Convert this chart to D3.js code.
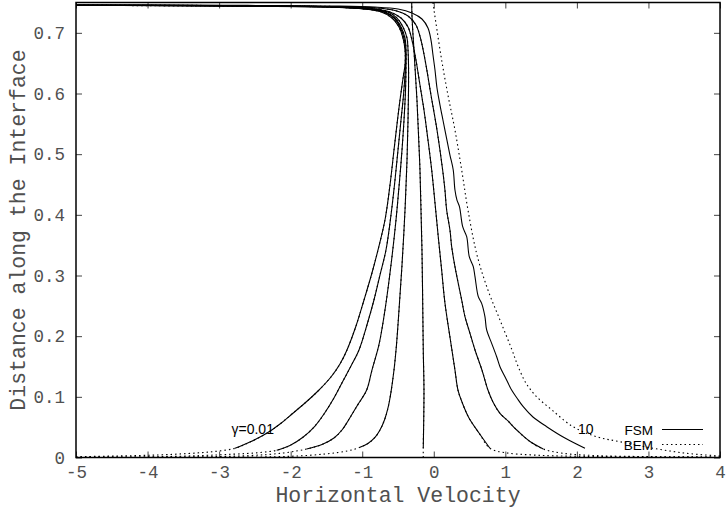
<!DOCTYPE html>
<html>
<head>
<meta charset="utf-8">
<script src="https://cdn.jsdelivr.net/npm/d3@7"></script>
<style>
  body { margin: 0; background: #fff; }
  text.tick-label { font-family: "Liberation Mono", "Courier New", monospace; font-size: 17.5px; fill: #505050; }
  text.title { font-family: "Liberation Mono", "Courier New", monospace; font-size: 21.5px; fill: #505050; }
  text.sans { font-family: "Liberation Sans", Arial, sans-serif; font-size: 14px; fill: #000; }
  text.key { font-family: "Liberation Sans", Arial, sans-serif; font-size: 13.5px; fill: #000; }
</style>
</head>
<body>
<div id="chart"></div>
<script>
const xTicks = [-5, -4, -3, -2, -1, 0, 1, 2, 3, 4];
const yTicks = [0, 0.1, 0.2, 0.3, 0.4, 0.5, 0.6, 0.7];

// FSM profiles, [velocity, distance], bottom to top
const fsm1 = [[-2.778,0.0152],[-2.569,0.0255],[-2.335,0.0399],[-2.149,0.0552],[-1.982,0.0717],[-1.800,0.0898],[-1.618,0.1096],[-1.437,0.1327],[-1.311,0.1541],[-1.213,0.1772],[-1.087,0.2167],[-0.975,0.2596],[-0.864,0.3041],[-0.780,0.3420],[-0.682,0.3915],[-0.612,0.4491],[-0.556,0.5068],[-0.507,0.5563],[-0.472,0.5892],[-0.423,0.6305],[-0.402,0.6469],[-0.402,0.6717],[-0.430,0.6914],[-0.486,0.7096],[-0.584,0.7244],[-0.752,0.7351],[-1.031,0.7401],[-1.590,0.7434],[-2.569,0.7447],[-3.966,0.7455],[-5,0.7458]];
const fsm2 = [[-2.195,0.0119],[-2.010,0.0198],[-1.824,0.0338],[-1.660,0.0519],[-1.534,0.0717],[-1.395,0.0981],[-1.269,0.1261],[-1.157,0.1508],[-1.045,0.1772],[-0.934,0.2184],[-0.836,0.2596],[-0.752,0.3008],[-0.668,0.3420],[-0.598,0.3997],[-0.542,0.4574],[-0.500,0.5068],[-0.458,0.5563],[-0.423,0.5975],[-0.395,0.6469],[-0.395,0.6717],[-0.416,0.6914],[-0.472,0.7096],[-0.556,0.7244],[-0.710,0.7343],[-0.962,0.7397],[-1.520,0.7430],[-2.569,0.7445],[-3.966,0.7453],[-5,0.7457]];
const fsm3 = [[-1.777,0.0140],[-1.562,0.0214],[-1.395,0.0321],[-1.283,0.0453],[-1.199,0.0602],[-1.073,0.0849],[-0.938,0.1112],[-0.864,0.1442],[-0.766,0.1859],[-0.682,0.2431],[-0.598,0.3173],[-0.528,0.3915],[-0.472,0.4656],[-0.444,0.5068],[-0.416,0.5563],[-0.395,0.6057],[-0.388,0.6469],[-0.388,0.6717],[-0.402,0.6914],[-0.458,0.7096],[-0.542,0.7244],[-0.682,0.7343],[-0.920,0.7392],[-1.450,0.7425],[-2.569,0.7442],[-3.966,0.7452],[-5,0.7455]];
const fsm4 = [[-1.031,0.0168],[-0.920,0.0231],[-0.822,0.0330],[-0.752,0.0453],[-0.689,0.0618],[-0.640,0.0816],[-0.598,0.1079],[-0.556,0.1442],[-0.521,0.1859],[-0.486,0.2431],[-0.444,0.3173],[-0.402,0.4079],[-0.374,0.4903],[-0.360,0.5563],[-0.353,0.6057],[-0.353,0.6469],[-0.360,0.6717],[-0.374,0.6914],[-0.430,0.7096],[-0.514,0.7244],[-0.640,0.7343],[-0.864,0.7392],[-1.381,0.7425],[-2.569,0.7439],[-3.966,0.7448],[-5,0.7452]];
const fsm5 = [[-0.147,0.0152],[-0.137,0.1112],[-0.147,0.1772],[-0.165,0.3420],[-0.193,0.4739],[-0.235,0.5892],[-0.277,0.6717],[-0.305,0.7294],[-0.309,0.7623]];
const fsm6 = [[0.785,0.0152],[0.632,0.0404],[0.492,0.0651],[0.394,0.0915],[0.338,0.1112],[0.296,0.1442],[0.226,0.1986],[0.156,0.2546],[0.110,0.3090],[0.063,0.3634],[0.017,0.4195],[-0.029,0.4739],[-0.081,0.5233],[-0.137,0.5728],[-0.193,0.6140],[-0.249,0.6552],[-0.305,0.6881],[-0.360,0.7096],[-0.458,0.7244],[-0.612,0.7343],[-0.864,0.7401],[-1.381,0.7429],[-2.569,0.7442],[-3.966,0.7450],[-5,0.7453]];
const fsm7 = [[1.530,0.0140],[1.344,0.0263],[1.159,0.0453],[1.037,0.0602],[0.925,0.0728],[0.827,0.0915],[0.757,0.1112],[0.673,0.1442],[0.576,0.1772],[0.506,0.2047],[0.436,0.2321],[0.390,0.2596],[0.342,0.2871],[0.296,0.3145],[0.250,0.3475],[0.226,0.3750],[0.180,0.4079],[0.156,0.4409],[0.124,0.4739],[0.045,0.5398],[-0.039,0.5975],[-0.109,0.6469],[-0.179,0.6881],[-0.249,0.7129],[-0.360,0.7277],[-0.542,0.7368],[-0.822,0.7412],[-1.381,0.7434],[-2.569,0.7445],[-3.966,0.7452],[-5,0.7455]];
const fsm8 = [[2.113,0.0152],[1.833,0.0321],[1.578,0.0508],[1.386,0.0667],[1.250,0.0837],[1.162,0.0981],[1.088,0.1112],[0.995,0.1332],[0.925,0.1497],[0.879,0.1661],[0.809,0.1882],[0.739,0.2102],[0.715,0.2321],[0.669,0.2541],[0.622,0.2651],[0.576,0.2980],[0.552,0.3145],[0.496,0.3310],[0.460,0.3639],[0.404,0.3804],[0.359,0.4134],[0.324,0.4244],[0.296,0.4409],[0.272,0.4739],[0.226,0.4986],[0.184,0.5233],[0.128,0.5563],[0.087,0.5810],[0.045,0.6090],[0.017,0.6387],[-0.011,0.6634],[-0.039,0.6881],[-0.081,0.7079],[-0.165,0.7228],[-0.305,0.7327],[-0.500,0.7392],[-0.822,0.7425],[-1.450,0.7442],[-3.267,0.7455],[-5,0.7458]];

// BEM: tails below the FSM ends (the rest of each BEM curve sits on its FSM curve)
const bemTail1 = [[-5,0.0013],[-4.43,0.0025],[-3.87,0.0041],[-3.45,0.0065],[-3.1,0.0095]];
const bemTail2 = [[-5,0.0005],[-4,0.001],[-3.3,0.003],[-2.8,0.0055],[-2.45,0.008]];
const bemTail3 = [[-5,0.0003],[-3.5,0.0008],[-2.6,0.003],[-2.1,0.0075]];
const bemTail4 = [[-5,0.0002],[-3,0.0005],[-2,0.002],[-1.5,0.006],[-1.2,0.011]];
const bemTail5 = [[-0.147,0]];
const bemTail6 = [[4,0.0005],[2,0.002],[1.4,0.004],[1.0,0.008]];
const bemTail7 = [[4,0.0008],[3,0.0015],[2.3,0.003],[1.8,0.007]];
const bem8 = [[4.0,0.0025],[3.534,0.0069],[3.067,0.0152],[2.602,0.0260],[2.276,0.0343],[1.945,0.0508],[1.652,0.0783],[1.428,0.1013],[1.288,0.1228],[1.176,0.1508],[1.093,0.1772],[0.925,0.2267],[0.757,0.2761],[0.604,0.3338],[0.478,0.4079],[0.390,0.4739],[0.296,0.5398],[0.198,0.5975],[0.110,0.6552],[0.045,0.7046],[0.003,0.7376],[-0.025,0.7623]];

const fsmCurves = [fsm1, fsm2, fsm3, fsm4, fsm5, fsm6, fsm7, fsm8];
const bemCurves = [
  bemTail1.concat(fsm1), bemTail2.concat(fsm2), bemTail3.concat(fsm3), bemTail4.concat(fsm4),
  bemTail5.concat(fsm5), bemTail6.concat(fsm6), bemTail7.concat(fsm7), bem8
];

const width = 726, height = 511;
const margin = {left: 76, right: 6, top: 2.5, bottom: 53.5};

const svg = d3.select('#chart').append('svg')
    .attr('width', width)
    .attr('height', height);

const x = d3.scaleLinear().domain([-5, 4]).range([margin.left, width - margin.right]);
const y = d3.scaleLinear().domain([0, 0.75]).range([height - margin.bottom, margin.top]);

svg.append('clipPath').attr('id', 'plot-clip')
  .append('rect')
    .attr('x', x(-5)).attr('y', y(0.75))
    .attr('width', x(4) - x(-5)).attr('height', y(0) - y(0.75));

// ticks, mirrored on all four sides
const tickLen = 6;
const xAxisB = d3.axisBottom(x).tickValues(xTicks).tickSize(-tickLen).tickFormat(d => d);
const xAxisT = d3.axisTop(x).tickValues(xTicks).tickSize(-tickLen).tickFormat('');
const yAxisL = d3.axisLeft(y).tickValues(yTicks).tickSize(-tickLen).tickPadding(11).tickFormat(d => d);
const yAxisR = d3.axisRight(y).tickValues(yTicks).tickSize(-tickLen).tickFormat('');

function styleAxis(g) {
  g.select('.domain').remove();
  g.selectAll('.tick line').attr('stroke', '#444').attr('stroke-width', 1);
  g.selectAll('.tick text').attr('class', 'tick-label').attr('fill', null);
}

svg.append('g').attr('transform', `translate(0,${y(0)})`).call(xAxisB).call(styleAxis)
  .selectAll('.tick text').attr('y', 0).attr('dy', 20.8);
svg.append('g').attr('transform', `translate(0,${y(0.75)})`).call(xAxisT).call(styleAxis);
svg.append('g').attr('transform', `translate(${x(-5)},0)`).call(yAxisL).call(styleAxis)
  .selectAll('.tick text').attr('dy', '0.33em');
svg.append('g').attr('transform', `translate(${x(4)},0)`).call(yAxisR).call(styleAxis);

const line = d3.line()
    .x(d => x(d[0]))
    .y(d => y(d[1]))
    .curve(d3.curveCatmullRom.alpha(0.5));

const plot = svg.append('g').attr('clip-path', 'url(#plot-clip)');

plot.selectAll('.bem').data(bemCurves).enter().append('path')
    .attr('class', 'bem')
    .attr('d', line)
    .attr('fill', 'none')
    .attr('stroke', '#000')
    .attr('stroke-width', 1.1)
    .attr('stroke-dasharray', '1.5,3');

plot.selectAll('.fsm').data(fsmCurves).enter().append('path')
    .attr('class', 'fsm')
    .attr('d', line)
    .attr('fill', 'none')
    .attr('stroke', '#000')
    .attr('stroke-width', 1.1);

// frame
svg.append('rect')
    .attr('x', x(-5)).attr('y', y(0.75))
    .attr('width', x(4) - x(-5)).attr('height', y(0) - y(0.75))
    .attr('fill', 'none')
    .attr('stroke', '#000')
    .attr('stroke-width', 1.5);

// curve labels
svg.append('text').attr('class', 'sans')
    .attr('x', 231.5).attr('y', 433.5)
    .text('γ=0.01');
svg.append('text').attr('class', 'sans')
    .attr('x', 578).attr('y', 433.5)
    .text('10');

// key
const key = [
  {label: 'FSM', dash: null, yy: 429.5, ty: 434.5},
  {label: 'BEM', dash: '1.5,3', yy: 444.5, ty: 450}
];
key.forEach(k => {
  svg.append('text').attr('class', 'key')
      .attr('x', 653).attr('y', k.ty)
      .attr('text-anchor', 'end')
      .text(k.label);
  svg.append('line')
      .attr('x1', 662).attr('x2', 703)
      .attr('y1', k.yy).attr('y2', k.yy)
      .attr('stroke', '#000')
      .attr('stroke-width', 1.1)
      .attr('stroke-dasharray', k.dash);
});

// axis titles
svg.append('text').attr('class', 'title')
    .attr('x', (x(-5) + x(4)) / 2).attr('y', 501.5)
    .attr('text-anchor', 'middle')
    .text('Horizontal Velocity');
svg.append('text').attr('class', 'title')
    .attr('transform', `translate(25,${(y(0) + y(0.75)) / 2}) rotate(-90)`)
    .attr('text-anchor', 'middle')
    .text('Distance along the Interface');
</script>
</body>
</html>
